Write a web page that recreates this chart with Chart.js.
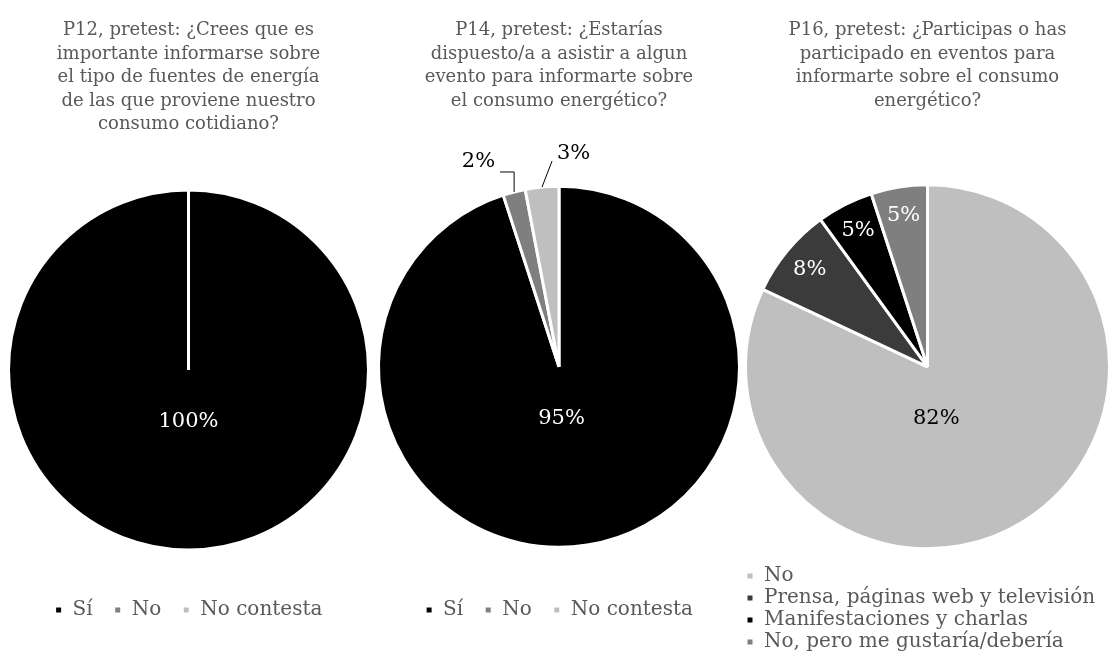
<!DOCTYPE html>
<html>
<head>
<meta charset="utf-8">
<script src="https://cdn.jsdelivr.net/npm/chart.js@4.4.1/dist/chart.umd.min.js"></script>
<style>
  html, body { margin: 0; padding: 0; background: #fff; }
  body { width: 1111px; height: 651px; position: relative; overflow: hidden; }
  .box { position: absolute; top: 0; height: 651px; }
</style>
</head>
<body>
<div class="box" style="left:0;width:377px"><canvas id="c1"></canvas></div>
<div class="box" style="left:372px;width:374px"><canvas id="c2"></canvas></div>
<div class="box" style="left:744px;width:367px"><canvas id="c3"></canvas></div>
<script>
// P12
const p12Title = ['P12, pretest: ¿Crees que es', 'importante informarse sobre', 'el tipo de fuentes de energía', 'de las que proviene nuestro', 'consumo cotidiano?'];
const p12Labels = ['Sí', 'No', 'No contesta'];
const p12Values = [100, 0, 0];

// P14
const p14Title = ['P14, pretest: ¿Estarías', 'dispuesto/a a asistir a algun', 'evento para informarte sobre', 'el consumo energético?'];
const p14Labels = ['Sí', 'No', 'No contesta'];
const p14Values = [95, 2, 3];

// P16
const p16Title = ['P16, pretest: ¿Participas o has', 'participado en eventos para', 'informarte sobre el consumo', 'energético?'];
const p16Labels = ['No', 'Prensa, páginas web y televisión', 'Manifestaciones y charlas', 'No, pero me gustaría/debería'];
const p16Values = [82, 8, 5, 5];

const FONT = "'DejaVu Serif', serif";

// percentage labels drawn on / beside the slices
const sliceLabels = {
    id: 'sliceLabels',
    afterDatasetsDraw(chart, args, opts) {
        const ctx = chart.ctx;
        const values = chart.data.datasets[0].data;
        const meta = chart.getDatasetMeta(0);
        ctx.save();
        ctx.font = `21px ${FONT}`;
        ctx.textBaseline = 'middle';
        meta.data.forEach((arc, i) => {
            const v = values[i];
            if (!v) return;
            const p = arc.getProps(['x', 'y', 'startAngle', 'endAngle', 'outerRadius'], true);
            const mid = (p.startAngle + p.endAngle) / 2;
            const r = p.outerRadius;
            const text = v + '%';
            const callout = opts.callouts && opts.callouts[i];
            ctx.fillStyle = opts.colors[i];
            if (callout) {
                const ex = p.x + Math.cos(mid) * r, ey = p.y + Math.sin(mid) * r;
                ctx.strokeStyle = '#000';
                ctx.lineWidth = 1;
                ctx.beginPath();
                ctx.moveTo(ex, ey);
                callout.path.forEach(pt => ctx.lineTo(ex + pt[0], ey + pt[1]));
                ctx.stroke();
                ctx.textAlign = callout.align;
                ctx.fillText(text, ex + callout.text[0], ey + callout.text[1]);
            } else if (v >= 50) {
                ctx.textAlign = 'center';
                ctx.fillText(text, p.x + Math.cos(mid) * r * 0.09, p.y + r * 0.285);
            } else {
                ctx.textAlign = 'center';
                ctx.fillText(text, p.x + Math.cos(mid) * r * 0.84, p.y + Math.sin(mid) * r * 0.84);
            }
        });
        ctx.restore();
    }
};

const makePie = (id, title, labels, values, colors, labelColors, extra) => {
    return new Chart(document.getElementById(id), {
        type: 'pie',
        data: {
            labels: labels,
            datasets: [{
                data: values,
                backgroundColor: colors,
                borderColor: '#ffffff',
                borderWidth: 3
            }]
        },
        options: {
            responsive: true,
            maintainAspectRatio: false,
            animation: false,
            layout: { padding: extra.padding },
            plugins: {
                tooltip: { enabled: false },
                title: {
                    display: true,
                    text: title,
                    color: '#595959',
                    font: { family: FONT, size: 18, weight: 'normal', lineHeight: 1.3 },
                    padding: extra.titlePadding
                },
                legend: {
                    position: 'bottom',
                    align: extra.legendAlign,
                    labels: {
                        color: '#595959',
                        font: { family: FONT, size: 20 },
                        boxWidth: 8,
                        boxHeight: 8,
                        padding: extra.legendPadding
                    }
                },
                sliceLabels: { colors: labelColors, callouts: extra.callouts || {} }
            }
        },
        plugins: [sliceLabels]
    });
};

makePie('c1', p12Title, p12Labels, p12Values,
    ['#000000', '#7f7f7f', '#bfbfbf'], ['#ffffff', '#ffffff', '#000000'],
    { padding: { left: 7, right: 7, bottom: 21 }, titlePadding: { top: 19, bottom: 25 }, legendAlign: 'center', legendPadding: 21 });

makePie('c2', p14Title, p14Labels, p14Values,
    ['#000000', '#7f7f7f', '#bfbfbf'], ['#ffffff', '#000000', '#000000'],
    {
        padding: { left: 5, right: 5, bottom: 21 }, titlePadding: { top: 19, bottom: 42 }, legendAlign: 'center', legendPadding: 21,
        callouts: {
            1: { path: [[0, -20], [-14, -20]], text: [-19, -30], align: 'right' },
            2: { path: [[10, -26]], text: [15, -34], align: 'left' }
        }
    });

makePie('c3', p16Title, p16Labels, p16Values,
    ['#bfbfbf', '#3b3b3b', '#000000', '#7f7f7f'], ['#000000', '#ffffff', '#ffffff', '#ffffff'],
    { padding: { bottom: -11 }, titlePadding: { top: 19, bottom: 57 }, legendAlign: 'start', legendPadding: 2 });
</script>
</body>
</html>
